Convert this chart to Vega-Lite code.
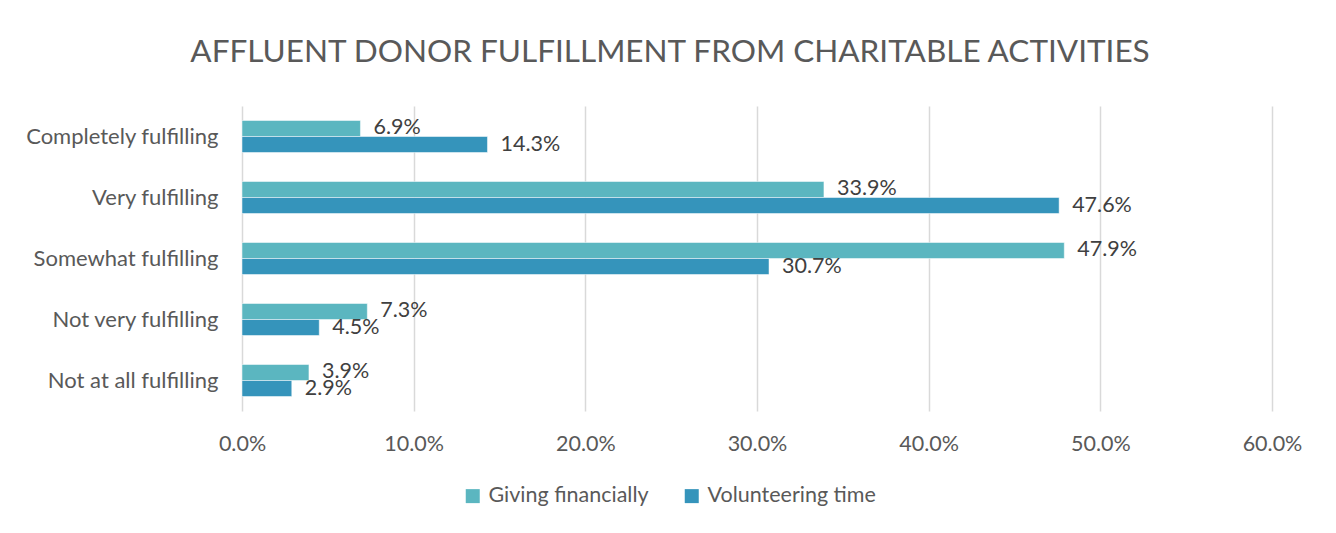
{
  "$schema": "https://vega.github.io/schema/vega-lite/v6.json",
  "autosize": {"type": "none"},
  "width": 1030,
  "height": 305,
  "padding": {"left": 242, "top": 106, "right": 64, "bottom": 122},
  "background": "white",
  "title": {
    "text": "AFFLUENT DONOR FULFILLMENT FROM CHARITABLE ACTIVITIES",
    "font": "Lato",
    "fontSize": 31.5,
    "fontWeight": "normal",
    "color": "#595959",
    "anchor": "middle",
    "frame": "group",
    "dx": -87,
    "offset": 38
  },
  "config": {
    "view": {"stroke": null},
    "font": "Lato"
  },
  "data": {
    "values": [
      {"category": "Completely fulfilling", "series": "Giving financially", "value": 0.069},
      {"category": "Completely fulfilling", "series": "Volunteering time", "value": 0.143},
      {"category": "Very fulfilling", "series": "Giving financially", "value": 0.339},
      {"category": "Very fulfilling", "series": "Volunteering time", "value": 0.476},
      {"category": "Somewhat fulfilling", "series": "Giving financially", "value": 0.479},
      {"category": "Somewhat fulfilling", "series": "Volunteering time", "value": 0.307},
      {"category": "Not very fulfilling", "series": "Giving financially", "value": 0.073},
      {"category": "Not very fulfilling", "series": "Volunteering time", "value": 0.045},
      {"category": "Not at all fulfilling", "series": "Giving financially", "value": 0.039},
      {"category": "Not at all fulfilling", "series": "Volunteering time", "value": 0.029}
    ]
  },
  "encoding": {
    "y": {
      "field": "category",
      "type": "nominal",
      "sort": ["Completely fulfilling", "Very fulfilling", "Somewhat fulfilling", "Not very fulfilling", "Not at all fulfilling"],
      "scale": {"paddingInner": 0.475, "paddingOuter": 0.2375},
      "axis": {
        "title": null,
        "ticks": false,
        "domain": false,
        "labelPadding": 24,
        "labelFontSize": 22,
        "labelLimit": 0,
        "labelColor": "#595959",
        "labelFont": "Lato"
      }
    },
    "yOffset": {
      "field": "series",
      "type": "nominal",
      "sort": ["Giving financially", "Volunteering time"]
    },
    "x": {
      "field": "value",
      "type": "quantitative",
      "scale": {"domain": [0, 0.6], "nice": false},
      "axis": {
        "title": null,
        "format": ".1%",
        "values": [0, 0.1, 0.2, 0.3, 0.4, 0.5, 0.6],
        "ticks": false,
        "domain": false,
        "grid": true,
        "gridColor": "#d9d9d9",
        "gridWidth": 1.5,
        "labelFlush": false,
        "labelPadding": 22,
        "labelFontSize": 21.5,
        "labelColor": "#595959",
        "labelFont": "Lato"
      }
    }
  },
  "layer": [
    {
      "mark": {"type": "bar", "stroke": "white", "strokeWidth": 0.5},
      "encoding": {
        "color": {
          "field": "series",
          "type": "nominal",
          "sort": ["Giving financially", "Volunteering time"],
          "scale": {"domain": ["Giving financially", "Volunteering time"], "range": ["#5BB6C0", "#3594BB"]},
          "legend": {
            "title": null,
            "orient": "none",
            "direction": "horizontal",
            "legendX": 220,
            "legendY": 379,
            "symbolType": "square",
            "symbolSize": 196,
            "symbolStrokeWidth": 0,
            "labelFontSize": 21.5,
            "labelLimit": 0,
            "labelColor": "#595959",
            "labelFont": "Lato",
            "columnPadding": 32,
            "labelOffset": 5
          }
        }
      }
    },
    {
      "mark": {"type": "text", "align": "left", "baseline": "middle", "dx": 13, "fontSize": 21.5, "color": "#404040", "font": "Lato"},
      "encoding": {
        "text": {"field": "value", "type": "quantitative", "format": ".1%"}
      }
    }
  ]
}
